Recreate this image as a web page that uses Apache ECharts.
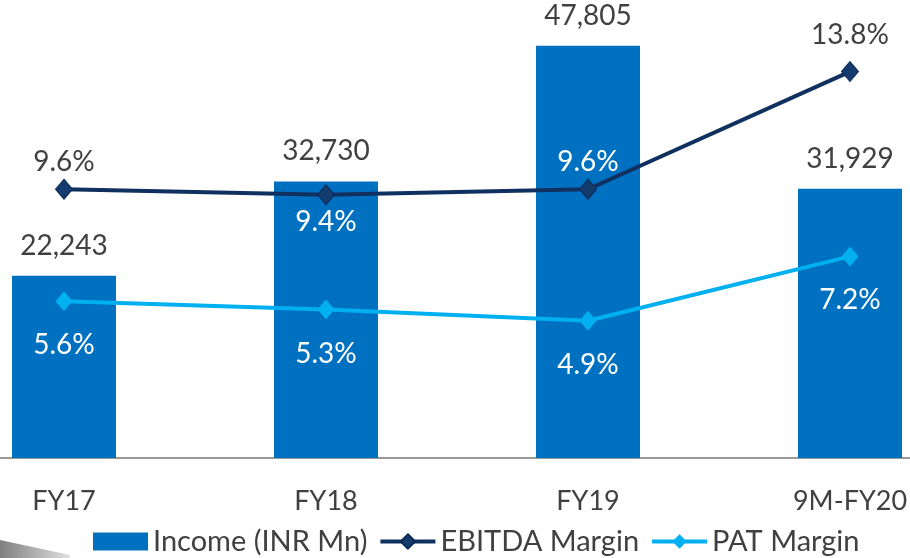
<!DOCTYPE html>
<html>
<head>
<meta charset="utf-8">
<script src="https://cdn.jsdelivr.net/npm/echarts@6/dist/echarts.min.js"></script>
<style>
  html, body { margin: 0; padding: 0; background: #fff; }
  #chart { width: 910px; height: 558px; }
</style>
</head>
<body>
<div id="chart"></div>
<script>
// 数据
var categories = ['FY17', 'FY18', 'FY19', '9M-FY20'];
var income = [22243, 32730, 47805, 31929];
var ebitdaMargin = [9.6, 9.4, 9.6, 13.8];
var patMargin = [5.6, 5.3, 4.9, 7.2];

// label placement per point (style only)
var ebitdaLabelPos = ['top', 'bottom', 'top', 'top'];
var ebitdaLabelDist = [3, 3, 3, 12];
var ebitdaLabelColor = ['#404040', '#fff', '#fff', '#404040'];

var FONT = 'Lato, "Open Sans", sans-serif';

var myChart = echarts.init(document.getElementById('chart'));

var option = {
    animation: false,
    textStyle: { fontFamily: FONT },
    grid: {
        outerBoundsMode: 'none',
        containLabel: false,
        left: -67,
        width: 1048,
        top: 10,
        bottom: 100
    },
    legend: {
        left: 88,
        top: 522,
        itemWidth: 55,
        itemHeight: 18,
        itemGap: 11,
        textStyle: { fontSize: 29, color: '#404040', fontFamily: FONT },
        data: [
            { name: 'Income (INR Mn)', icon: 'rect', itemStyle: { color: '#0070C0' } },
            { name: 'EBITDA Margin', lineStyle: { width: 4 } },
            { name: 'PAT Margin', lineStyle: { width: 4 } }
        ]
    },
    xAxis: {
        type: 'category',
        data: categories,
        axisTick: { show: false },
        axisLine: { lineStyle: { color: '#999999', width: 2 } },
        axisLabel: { color: '#404040', fontSize: 27, margin: 30, fontFamily: FONT }
    },
    yAxis: [
        { type: 'value', min: 2000, max: 51778, show: false, splitLine: { show: false } },
        { type: 'value', min: 0, max: 16, show: false, splitLine: { show: false } }
    ],
    series: [
        {
            name: 'Income (INR Mn)',
            type: 'bar',
            yAxisIndex: 0,
            barWidth: 104,
            data: income,
            itemStyle: { color: '#0070C0' },
            label: {
                show: true,
                position: 'top',
                distance: 16,
                color: '#404040',
                fontSize: 28,
                fontFamily: FONT,
                formatter: function (p) {
                    return p.value.toLocaleString('en-US');
                }
            }
        },
        {
            name: 'EBITDA Margin',
            type: 'line',
            yAxisIndex: 1,
            symbol: 'diamond',
            symbolSize: [17, 20],
            z: 5,
            lineStyle: { color: '#10305F', width: 4 },
            itemStyle: { color: '#133B6E', borderColor: '#0C2A55', borderWidth: 1 },
            data: ebitdaMargin.map(function (v, i) {
                return {
                    value: v,
                    label: {
                        position: ebitdaLabelPos[i],
                        distance: ebitdaLabelDist[i],
                        color: ebitdaLabelColor[i]
                    }
                };
            }),
            label: {
                show: true,
                fontSize: 28,
                fontFamily: FONT,
                formatter: function (p) { return p.value.toFixed(1) + '%'; }
            }
        },
        {
            name: 'PAT Margin',
            type: 'line',
            yAxisIndex: 1,
            symbol: 'diamond',
            symbolSize: [17, 20],
            z: 5,
            lineStyle: { color: '#00B0F0', width: 4 },
            itemStyle: { color: '#00B0F0' },
            data: patMargin,
            label: {
                show: true,
                position: 'bottom',
                distance: 20,
                color: '#fff',
                fontSize: 28,
                fontFamily: FONT,
                formatter: function (p) { return p.value.toFixed(1) + '%'; }
            }
        }
    ],
    graphic: [
        {
            type: 'polygon',
            silent: true,
            shape: { points: [[0, 540], [70, 555], [70, 558], [0, 558]] },
            style: {
                fill: new echarts.graphic.LinearGradient(0, 0, 1, 0, [
                    { offset: 0, color: '#7f7f7f' },
                    { offset: 1, color: '#e0e0e0' }
                ])
            }
        }
    ]
};

myChart.setOption(option);
</script>
</body>
</html>
